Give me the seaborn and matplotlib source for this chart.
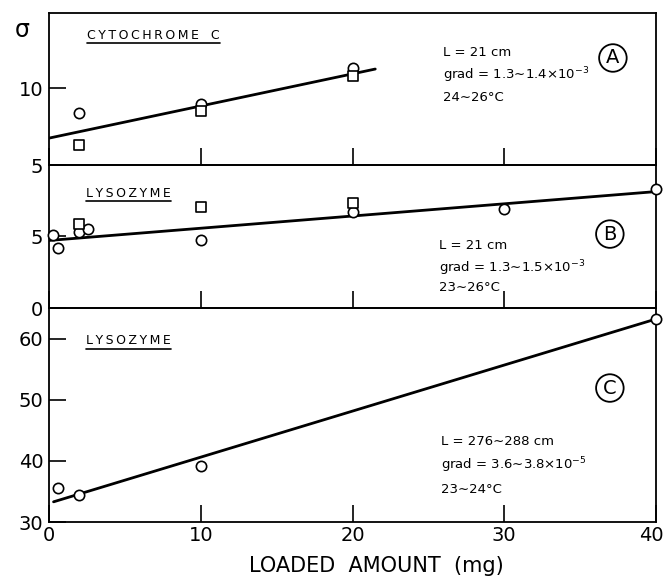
import matplotlib
matplotlib.use("Agg")
import matplotlib.pyplot as plt
import matplotlib.transforms as mtransforms
import seaborn as sns
import pandas as pd

sns.set_theme(style="white")
plt.rcParams['font.family'] = ['DejaVu Sans']

# ---- data ----
A_circle_x = [2, 10, 20]
A_circle_y = [8.4, 9.0, 11.35]
A_square_x = [2, 10, 20]
A_square_y = [6.3, 8.5, 10.8]
A_fit_x = [0, 21.5]
A_fit_y = [6.75, 11.25]

B_circle_x = [0.25, 0.6, 2, 2.6, 10, 20, 30, 40]
B_circle_y = [5.05, 4.2, 5.3, 5.5, 4.7, 6.7, 6.9, 8.25]
B_square_x = [2, 10, 20]
B_square_y = [5.85, 7.0, 7.3]
B_fit_x = [0, 40]
B_fit_y = [4.7, 8.1]

C_circle_x = [0.6, 2, 10, 40]
C_circle_y = [35.6, 34.4, 39.1, 63.2]
C_fit_x = [0.3, 40]
C_fit_y = [33.3, 63.2]

x_ticks = [0, 10, 20, 30, 40]
A_yticks = [5, 10]
B_yticks = [0, 5]
C_yticks = [30, 40, 50, 60]

# ---- figure ----
fig = plt.figure(figsize=(6.65, 5.8), dpi=100)
W, H = 665, 580
left, right = 49, 656
def pos(top, bottom):
    return [left / W, 1 - bottom / H, (right - left) / W, (bottom - top) / H]

axA = fig.add_axes(pos(13, 165))
axB = fig.add_axes(pos(165, 308))
axC = fig.add_axes(pos(308, 522))

def scatter(ax, x, y, marker, s):
    df = pd.DataFrame({"x": x, "y": y})
    sns.scatterplot(data=df, x="x", y="y", ax=ax, marker=marker, s=s,
                    facecolor="white", edgecolor="black", linewidth=1.2,
                    clip_on=False, zorder=4)

def fit(ax, x, y):
    df = pd.DataFrame({"x": x, "y": y})
    sns.lineplot(data=df, x="x", y="y", ax=ax, color="black", linewidth=2.0,
                 zorder=3)

fit(axA, A_fit_x, A_fit_y)
scatter(axA, A_circle_x, A_circle_y, "o", 55)
scatter(axA, A_square_x, A_square_y, "s", 45)

fit(axB, B_fit_x, B_fit_y)
scatter(axB, B_circle_x, B_circle_y, "o", 55)
scatter(axB, B_square_x, B_square_y, "s", 45)

fit(axC, C_fit_x, C_fit_y)
scatter(axC, C_circle_x, C_circle_y, "o", 55)

limits = {axA: (5, 14.9), axB: (0, 9.95), axC: (30, 65)}
yt = {axA: A_yticks, axB: B_yticks, axC: C_yticks}
for ax in (axA, axB, axC):
    ax.set_xlim(0, 40)
    ax.set_ylim(*limits[ax])
    ax.set_xticks(x_ticks)
    ax.set_yticks(yt[ax])
    ax.set_xlabel("")
    ax.set_ylabel("")
    for sp in ax.spines.values():
        sp.set_color("black")
        sp.set_linewidth(1.3)
    ax.tick_params(axis="both", which="both", direction="in", length=12,
                   width=1.2, colors="black", labelsize=14, pad=3,
                   bottom=True, left=True, top=False, right=False)
    ax.tick_params(axis="y", pad=4)
    ax.patch.set_alpha(0)

axA.tick_params(labelbottom=False)
axB.tick_params(labelbottom=False)
axC.tick_params(axis="x", pad=3)
axC.set_xlabel("LOADED  AMOUNT  (mg)", fontsize=15, color="black")
axC.xaxis.set_label_coords(0.539, -0.16)

# keep the last x tick label inside the canvas
last = axC.get_xticklabels()[-1]
last.set_transform(last.get_transform() +
                   mtransforms.ScaledTranslation(-5 / 100, 0, fig.dpi_scale_trans))

fig.text(22 / W, 1 - 30 / H, "σ", fontsize=17, color="black", ha="center", va="center")

TS = "\u2009"
def spaced(word):
    return TS.join(word)

def title(ax, x, y, s):
    t = ax.text(x, y, s, transform=ax.transAxes, fontsize=9, color="black",
                ha="left", va="center")
    return t

titles = [title(axA, 0.063, 0.855, spaced("CYTOCHROME") + "   " + "C"),
          title(axB, 0.061, 0.804, spaced("LYSOZYME")),
          title(axC, 0.061, 0.846, spaced("LYSOZYME"))]

def notes(ax, x, ys, lines):
    for y, s in zip(ys, lines):
        ax.text(x, y, s, transform=ax.transAxes, fontsize=9.5, color="black",
                ha="left", va="center")

notes(axA, 0.649, [0.743, 0.592, 0.447],
      ["L = 21 cm", r"grad = 1.3∼1.4×10$^{-3}$", "24∼26°C"])
notes(axB, 0.643, [0.44, 0.28, 0.14],
      ["L = 21 cm", r"grad = 1.3∼1.5×10$^{-3}$", "23∼26°C"])
notes(axC, 0.646, [0.374, 0.266, 0.154],
      ["L = 276∼288 cm", r"grad = 3.6∼3.8×10$^{-5}$", "23∼24°C"])

def circled(ax, x, y, s):
    ax.text(x, y, s, transform=ax.transAxes, fontsize=14, color="black",
            ha="center", va="center",
            bbox=dict(boxstyle="circle,pad=0.22", fc="none", ec="black", lw=1.3))

circled(axA, 0.929, 0.704, "A")
circled(axB, 0.924, 0.517, "B")
circled(axC, 0.924, 0.626, "C")

# underline the substance names
fig.canvas.draw()
r = fig.canvas.get_renderer()
for t in titles:
    bb = t.get_window_extent(renderer=r)
    inv = fig.transFigure.inverted()
    (x0, y0), (x1, _) = inv.transform([[bb.x0, bb.y0], [bb.x1, bb.y0]])
    fig.add_artist(plt.Line2D([x0, x1], [y0 - 0.002, y0 - 0.002],
                              transform=fig.transFigure, color="black", lw=1.2))

fig.savefig("out.png", dpi=100, facecolor="white")
